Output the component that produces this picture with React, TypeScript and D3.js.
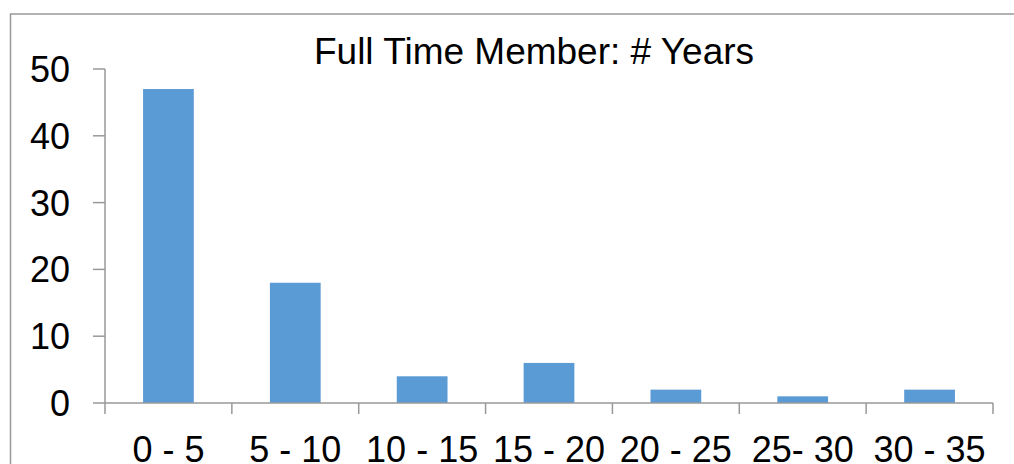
import { scaleBand, scaleLinear } from "d3";

const categories = ["0 - 5", "5 - 10", "10 - 15", "15 - 20", "20 - 25", "25- 30", "30 - 35"];
const counts = [47, 18, 4, 6, 2, 1, 2];
const yTicks = [0, 10, 20, 30, 40, 50];
const title = "Full Time Member: # Years";

const W = 1014;
const H = 464;
const left = 105;
const right = 993;
const top = 69;
const bottom = 403;
const font = "'Liberation Sans', Arial, Helvetica, sans-serif";
const axisColor = "#999";

export default function App() {
  const x = scaleBand<string>().domain(categories).range([left, right]).paddingInner(0.6).paddingOuter(0.3);
  const band = scaleBand<string>().domain(categories).range([left, right]);
  const y = scaleLinear().domain([0, 50]).range([bottom, top]);

  return (
    <svg
      width={W}
      height={H}
      style={{ position: "absolute", left: 0, top: 0, background: "#fff" }}
    >
      {/* chart frame, runs off the right and bottom */}
      <rect x={10.5} y={14} width={W + 20} height={H + 20} fill="none" stroke="#999" strokeWidth={1.5} />

      <text x={534} y={64} textAnchor="middle" fontFamily={font} fontSize={37} fill="#000">
        {title}
      </text>

      {counts.map((v, i) => (
        <rect
          key={categories[i]}
          x={x(categories[i])}
          y={y(v)}
          width={x.bandwidth()}
          height={y(0) - y(v)}
          fill="#5b9bd5"
        />
      ))}

      {/* y axis */}
      <line x1={left} x2={left} y1={y(50)} y2={y(0)} stroke={axisColor} strokeWidth={1.5} />
      {yTicks.map((t) => (
        <g key={t}>
          <line x1={left - 12} x2={left} y1={y(t)} y2={y(t)} stroke={axisColor} strokeWidth={1.5} />
          <text x={70} y={y(t)} dy="0.36em" textAnchor="end" fontFamily={font} fontSize={36} fill="#000">
            {t}
          </text>
        </g>
      ))}

      {/* x axis */}
      <line x1={left} x2={right} y1={y(0)} y2={y(0)} stroke={axisColor} strokeWidth={1.5} />
      {[...categories.map((c) => band(c)!), right].map((px, i) => (
        <line key={i} x1={px} x2={px} y1={y(0)} y2={y(0) + 11} stroke={axisColor} strokeWidth={1.5} />
      ))}
      {categories.map((c) => (
        <text
          key={c}
          x={band(c)! + band.bandwidth() / 2}
          y={462}
          textAnchor="middle"
          fontFamily={font}
          fontSize={36}
          fill="#000"
        >
          {c}
        </text>
      ))}
    </svg>
  );
}
